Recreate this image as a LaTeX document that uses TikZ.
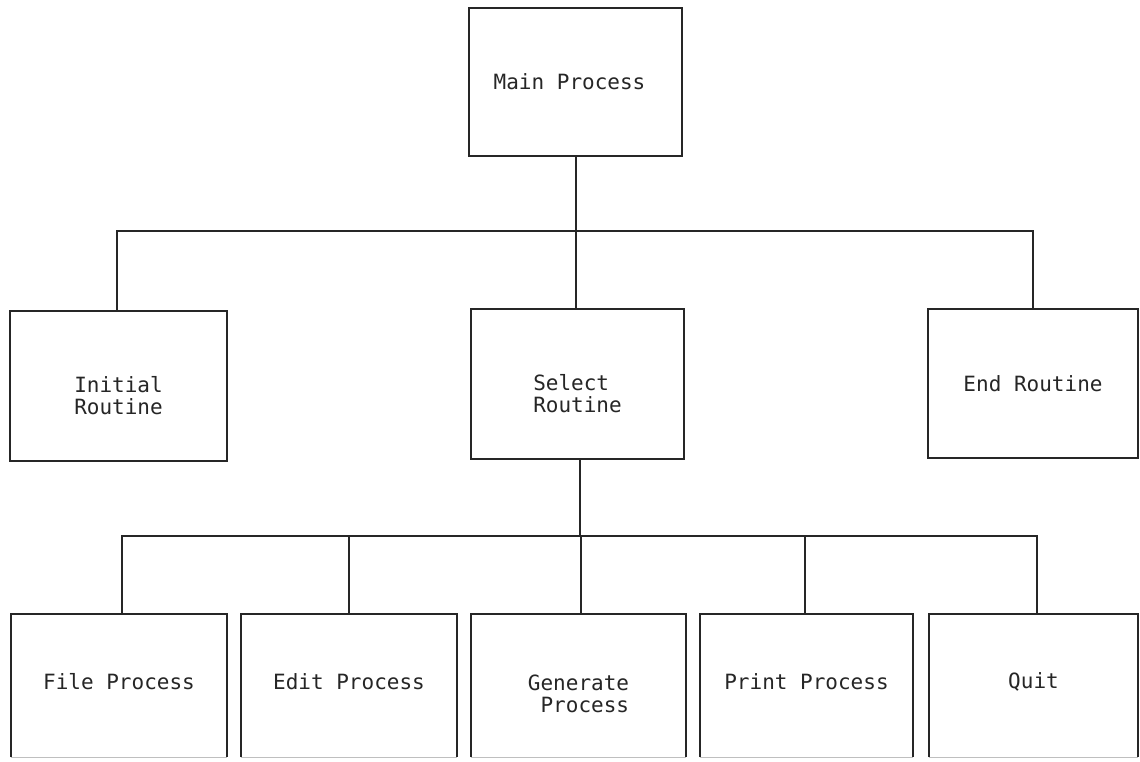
\documentclass[tikz,border=0pt]{standalone}
\usepackage{fontspec}
\setmainfont{DejaVu Sans Mono}
\begin{document}
\begin{tikzpicture}[x=1pt,y=-1pt,
  line/.style={draw=black!85,line width=1.6pt},
  box/.style={line,rectangle,inner sep=0pt,minimum width=#1,minimum height=150pt},
  openbox/.style={rectangle,inner sep=0pt,minimum width=#1,minimum height=143pt},
  lbl/.style={font=\fontsize{21}{22}\selectfont,align=left,inner sep=0pt,text=black!85},
  faint/.style={draw=black!25,line width=0.8pt}]
\useasboundingbox[fill=white] (0,0) rectangle (1140,761);

% top
\node[box=213pt,minimum height=148pt] (main) at (575.5,82) {};
\node[lbl] (mainT) at ([xshift=-6pt]main.center) {Main Process};

% middle row
\node[box=217pt] (init) at (118.5,386) {};
\node[lbl] (initT) at ([yshift=-10pt]init.center) {Initial\\Routine};
\node[box=213pt] (sel) at (577.5,384) {};
\node[lbl] (selT) at ([yshift=-10pt]sel.center) {Select\\Routine};
\node[box=210pt,minimum height=149pt] (endr) at (1033,383.5) {};
\node[lbl] (endT) at (endr.center) {End Routine};

% bottom row
\node[openbox=216pt] (file) at (119,685.5) {};
\node[openbox=216pt] (edit) at (349,685.5) {};
\node[openbox=215pt] (gen) at (578.5,685.5) {};
\node[openbox=213pt] (prn) at (806.5,685.5) {};
\node[openbox=209pt] (quit) at (1033.5,685.5) {};
\foreach \n in {file,edit,gen,prn,quit}{
  \draw[line] (\n.south west) -- (\n.north west) -- (\n.north east) -- (\n.south east);
  \draw[faint] (\n.south west) -- (\n.south east);
}
\node[lbl] (fileT) at ([yshift=4pt]file.center) {File Process};
\node[lbl] (editT) at ([yshift=4pt]edit.center) {Edit Process};
\node[lbl] (genT) at ([yshift=-8pt]gen.center) {Generate\\~Process};
\node[lbl] (prnT) at ([yshift=4pt]prn.center) {Print Process};
\node[lbl] (quitT) at ([yshift=4pt]quit.center) {Quit};

% connectors level 1
\coordinate (bus1) at (576,231);
\draw[line] ([xshift=0.5pt]main.south) -- (bus1);
\draw[line] ([xshift=-1.5pt]init.north) |- (bus1);
\draw[line] ([xshift=-1.5pt]sel.north) -- ([xshift=-1.5pt]sel.north |- bus1);
\draw[line] (endr.north) |- (bus1);

% connectors level 2
\coordinate (bus2) at (581,536);
\draw[line] ([xshift=2.5pt]sel.south) -- ([xshift=2.5pt]sel.south |- bus2);
\draw[line] ([xshift=2.5pt]gen.north) -- (bus2);
\draw[line] ([xshift=3pt]file.north) |- (bus2);
\draw[line] (edit.north) |- (bus2);
\draw[line] ([xshift=-1.5pt]prn.north) |- (bus2);
\draw[line] ([xshift=3.5pt]quit.north) |- (bus2);
\end{tikzpicture}
\end{document}
